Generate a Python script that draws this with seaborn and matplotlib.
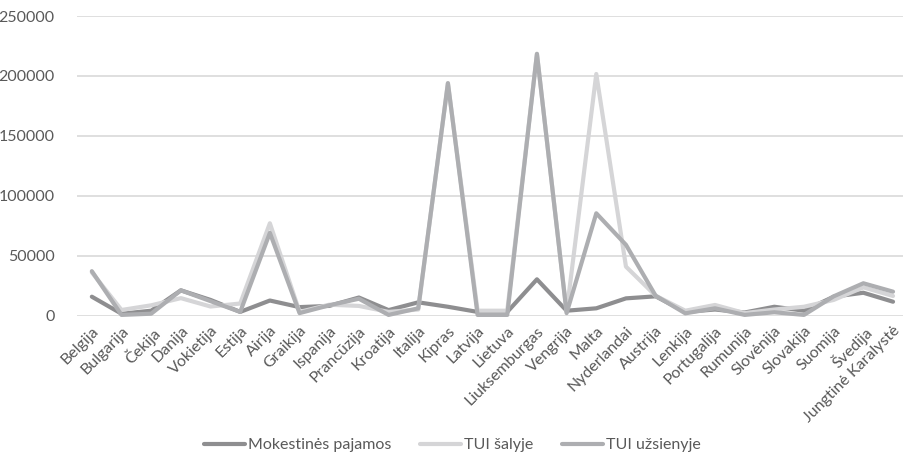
import matplotlib
matplotlib.use("Agg")
import matplotlib.pyplot as plt
import seaborn as sns
import pandas as pd

countries = ["Belgija", "Bulgarija", "Čekija", "Danija", "Vokietija", "Estija", "Airija",
             "Graikija", "Ispanija", "Prancūzija", "Kroatija", "Italija", "Kipras", "Latvija",
             "Lietuva", "Liuksemburgas", "Vengrija", "Malta", "Nyderlandai", "Austrija",
             "Lenkija", "Portugalija", "Rumunija", "Slovėnija", "Slovakija", "Suomija",
             "Švedija", "Jungtinė Karalystė"]

mokestines = [15700, 1500, 4000, 21000, 13000, 3000, 12500, 7000, 8000, 15000, 4500, 11000,
              7300, 3000, 3000, 30200, 4000, 6000, 14300, 16000, 3000, 5000, 2500, 7300,
              4000, 15700, 19000, 11500]
tui_salyje = [36000, 4600, 8500, 14500, 7500, 10000, 77000, 3000, 9000, 8000, 3000, 5000,
              194000, 4000, 4000, 218400, 3000, 201600, 40800, 16500, 4000, 8800, 2000, 5000,
              7300, 13000, 23500, 16300]
tui_uzsienyje = [37000, 500, 1500, 21000, 12000, 3000, 69000, 2000, 8500, 14000, 500, 6000,
                 193900, 500, 500, 218400, 2000, 85300, 59000, 16500, 1800, 6000, 500, 2700,
                 500, 16000, 26900, 19900]

series_names = ["Mokestinės pajamos", "TUI šalyje", "TUI užsienyje"]
series_colors = ["#8e8e90", "#d5d5d7", "#adaeb1"]

df = pd.concat([
    pd.DataFrame({"x": range(len(countries)), "value": vals, "series": name})
    for name, vals in zip(series_names, [mokestines, tui_salyje, tui_uzsienyje])
])

sns.set_style("white")
plt.rcParams["font.family"] = ["Lato", "DejaVu Sans"]

W, H = 904, 459
fig = plt.figure(figsize=(W / 100, H / 100), dpi=100)
ax = fig.add_axes([77 / W, 1 - 315.5 / H, (904 - 77) / W, (315.5 - 16) / H])

sns.lineplot(data=df, x="x", y="value", hue="series", hue_order=series_names,
             palette=series_colors, linewidth=3.0, ax=ax, legend=False,
             clip_on=False, zorder=3)

ax.set_xlim(-0.5, 27.37)
ax.set_ylim(0, 250000)
ax.set_yticks(range(0, 250001, 50000))
ax.set_yticklabels([str(v) for v in range(0, 250001, 50000)])
ax.set_xticks(range(len(countries)))
ax.set_xticklabels(countries, rotation=45, ha="right", rotation_mode="anchor")
ax.tick_params(axis="both", length=0, labelcolor="#595959", labelsize=11.5)
ax.tick_params(axis="x", pad=6)
ax.tick_params(axis="y", pad=16)
ax.set_xlabel("")
ax.set_ylabel("")
ax.grid(axis="y", color="#d9d9d9", linewidth=1.2)
ax.set_axisbelow(True)
for s in ax.spines.values():
    s.set_visible(False)

handles = [plt.Line2D([], [], color=c, linewidth=3.0) for c in series_colors]
fig.legend(handles, series_names, loc="center", bbox_to_anchor=(0.5, 1 - 445 / H),
           ncol=3, frameon=False, fontsize=11.5, labelcolor="#595959",
           handlelength=2.6, handletextpad=0.15, columnspacing=1.8)

fig.savefig("out.png", dpi=100)
